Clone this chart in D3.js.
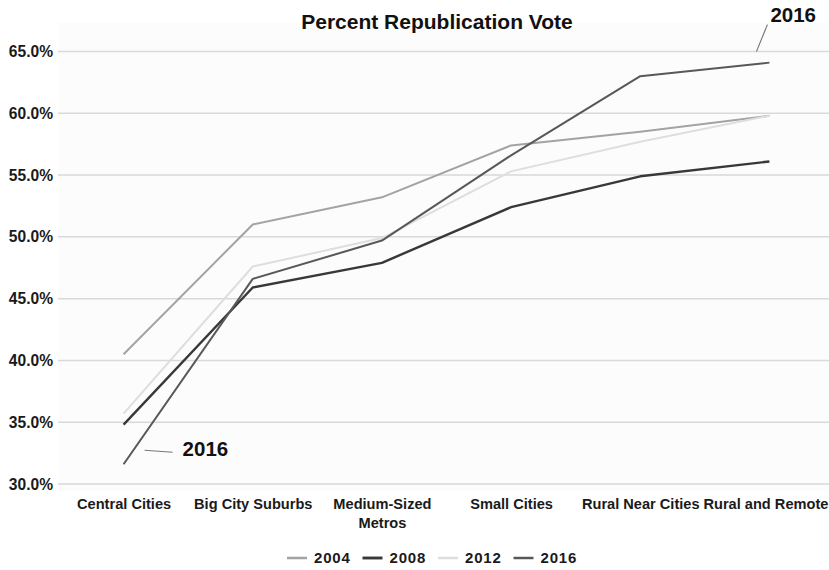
<!DOCTYPE html>
<html>
<head>
<meta charset="utf-8">
<script src="https://cdn.jsdelivr.net/npm/d3@7"></script>
<style>
  html, body { margin: 0; padding: 0; background: #ffffff; }
  svg { display: block; font-family: "Liberation Sans", Arial, Helvetica, sans-serif; }
</style>
</head>
<body>
<svg id="chart" width="829" height="570"></svg>
<script>
const categories = ["Central Cities", "Big City Suburbs", "Medium-Sized Metros", "Small Cities", "Rural Near Cities", "Rural and Remote"];
const years = ["2004", "2008", "2012", "2016"];
const values2004 = [40.5, 51.0, 53.2, 57.4, 58.5, 59.8];
const values2008 = [34.8, 45.9, 47.9, 52.4, 54.9, 56.1];
const values2012 = [35.7, 47.6, 49.9, 55.3, 57.7, 59.8];
const values2016 = [31.6, 46.6, 49.7, 56.6, 63.0, 64.1];
const yTicks = [30, 35, 40, 45, 50, 55, 60, 65];
const titleText = "Percent Republication Vote";
const annotationText = "2016";

const seriesList = [
  { name: years[0], values: values2004, color: "#a3a3a3", width: 2 },
  { name: years[1], values: values2008, color: "#383838", width: 2.4 },
  { name: years[2], values: values2012, color: "#dedede", width: 2 },
  { name: years[3], values: values2016, color: "#585858", width: 2 }
];

const svg = d3.select("#chart");

const x = d3.scalePoint().domain(categories).range([59, 834]).padding(0.5);
const y = d3.scaleLinear().domain([30, 65]).range([484, 51.5]);

// plot background
svg.append("rect").attr("x", 58).attr("y", 23).attr("width", 771).attr("height", 468)
  .attr("fill", "#fcfcfc");

// gridlines
svg.append("g").selectAll("line").data(yTicks).join("line")
  .attr("x1", 58).attr("x2", 829)
  .attr("y1", d => y(d)).attr("y2", d => y(d))
  .attr("stroke", "#d9d9d9").attr("stroke-width", 1.5);

// y axis labels
const yAxis = d3.axisLeft(y).tickValues(yTicks).tickSize(0).tickPadding(0)
  .tickFormat(d => d.toFixed(1) + "%");
const yg = svg.append("g").attr("transform", "translate(53,0)").call(yAxis);
yg.select(".domain").remove();
yg.selectAll("text").attr("font-size", 15.6).attr("font-weight", "bold")
  .attr("fill", "#1a1a1a").attr("font-family", "Liberation Sans, Arial, sans-serif");

// x axis labels
const xAxis = d3.axisBottom(x).tickSize(0).tickPadding(0);
const xg = svg.append("g").attr("transform", "translate(0,499)").call(xAxis);
xg.select(".domain").remove();
xg.selectAll("text").attr("font-size", 14.6).attr("font-weight", "bold")
  .attr("fill", "#1a1a1a").attr("font-family", "Liberation Sans, Arial, sans-serif")
  .each(function(d, idx) {
    const t = d3.select(this);
    const words = d.split(" ");
    t.text(null);
    let line = [];
    let lines = [];
    const tmp = t.append("tspan");
    words.forEach(w => {
      line.push(w);
      tmp.text(line.join(" "));
      if (tmp.node().getComputedTextLength() > 128 && line.length > 1) {
        line.pop();
        lines.push(line.join(" "));
        line = [w];
      }
    });
    lines.push(line.join(" "));
    tmp.remove();
    const shift = idx === categories.length - 1 ? -4 : 0;
    lines.forEach((l, i) => {
      t.append("tspan").attr("x", shift).attr("dy", i === 0 ? "0.71em" : "1.25em").text(l);
    });
  });

// lines
const lineGen = d3.line().x((d, i) => x(categories[i])).y(d => y(d));
svg.append("g").selectAll("path").data(seriesList).join("path")
  .attr("d", s => lineGen(s.values))
  .attr("fill", "none")
  .attr("stroke", s => s.color)
  .attr("stroke-width", s => s.width)
  .attr("stroke-linejoin", "round");

// title
svg.append("text").attr("x", 437).attr("y", 29).attr("text-anchor", "middle")
  .attr("font-size", 21).attr("font-weight", "bold").attr("fill", "#111")
  .text(titleText);

// annotations
const last = categories.length - 1;
svg.append("line")
  .attr("x1", x(categories[last]) - 13).attr("y1", y(values2016[last]) - 11)
  .attr("x2", x(categories[last]) - 2).attr("y2", y(values2016[last]) - 38)
  .attr("stroke", "#777").attr("stroke-width", 1.2);
svg.append("text").attr("x", x(categories[last]) + 1).attr("y", 22)
  .attr("font-size", 20.5).attr("font-weight", "bold").attr("fill", "#111")
  .text(annotationText);

svg.append("line")
  .attr("x1", x(categories[0]) + 21).attr("y1", y(values2016[0]) - 14)
  .attr("x2", x(categories[0]) + 49).attr("y2", y(values2016[0]) - 12)
  .attr("stroke", "#777").attr("stroke-width", 1.2);
svg.append("text").attr("x", x(categories[0]) + 59).attr("y", y(values2016[0]) - 8)
  .attr("font-size", 20.5).attr("font-weight", "bold").attr("fill", "#111")
  .text(annotationText);

// legend
const legend = svg.append("g").attr("transform", "translate(287,558)");
const lg = legend.selectAll("g").data(seriesList).join("g")
  .attr("transform", (d, i) => `translate(${i * 75.5},0)`);
lg.append("line").attr("x1", 0).attr("x2", 20).attr("y1", 0).attr("y2", 0)
  .attr("stroke", d => d.color).attr("stroke-width", d => d.width + 0.5);
lg.append("text").attr("x", 27).attr("y", 0).attr("dy", "0.36em")
  .attr("font-size", 15).attr("font-weight", "bold").attr("fill", "#1a1a1a")
  .attr("letter-spacing", "0.8px")
  .text(d => d.name);
</script>
</body>
</html>
